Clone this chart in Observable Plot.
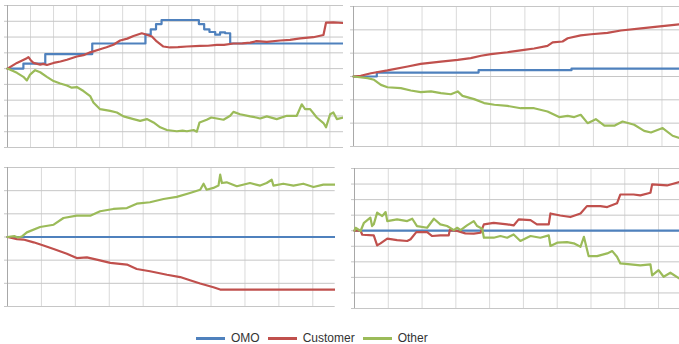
<!DOCTYPE html>
<html>
<head>
<meta charset="utf-8">
<script src="https://cdn.jsdelivr.net/npm/d3@7"></script>
<script src="https://cdn.jsdelivr.net/npm/@observablehq/plot@0.6"></script>
<style>
  html, body { margin: 0; padding: 0; background: #fff; }
  #chart { position: relative; width: 679px; height: 344px; overflow: hidden; font-family: "Liberation Sans", Arial, sans-serif; }
  #chart .panel { position: absolute; }
  #legend { position: absolute; left: 196px; top: 330px; height: 16px; display: flex; align-items: center; font-size: 12px; color: #333; }
  #legend .sw { width: 29px; height: 3px; }
  #legend .lb { margin-left: 6px; margin-right: 8px; }
</style>
</head>
<body>
<div id="chart"><div id="legend"></div></div>
<script>
// Series names and colours
const seriesNames = ["OMO", "Customer", "Other"];
const seriesColors = ["#4f81bd", "#c0504d", "#9bbb59"];

// Panel A (top left): cumulative flows, [period, value]
const aOmo = [[0,0],[0.69,0.31],[1.64,0.92],[3.68,1.59],[5.99,2.15],[6.22,2.49],[6.45,2.82],[6.69,3.08],[8.31,2.82],[8.54,2.49],[8.77,2.32],[9.02,2.15],[9.23,2.30],[9.45,2.24],[9.67,1.59],[14.59,1.59]];
const aCustomer = [[0,0],[0.41,0.36],[0.84,0.66],[0.91,0.73],[1.0,0.55],[1.13,0.36],[1.42,0.25],[1.55,0.3],[1.71,0.23],[2.0,0.36],[2.3,0.45],[2.58,0.56],[3.01,0.77],[3.3,0.85],[3.59,1.03],[4.02,1.23],[4.3,1.35],[4.6,1.51],[4.89,1.78],[5.2,1.9],[5.47,2.07],[5.83,2.24],[6.05,2.15],[6.27,2.03],[6.48,1.72],[6.77,1.40],[7.06,1.34],[7.4,1.36],[7.79,1.40],[8.36,1.44],[8.7,1.45],[9.09,1.51],[9.4,1.5],[9.81,1.59],[10.2,1.6],[10.54,1.65],[10.82,1.74],[11.26,1.69],[11.84,1.78],[12.27,1.82],[12.71,1.92],[13.28,1.99],[13.72,2.13],[13.83,2.91],[14.15,2.93],[14.59,2.89]];
const aOther = [[0,0],[0.41,-0.27],[0.69,-0.52],[0.84,-0.75],[0.98,-0.38],[1.20,-0.10],[1.42,-0.23],[1.71,-0.52],[2.0,-0.79],[2.29,-0.94],[2.58,-1.07],[2.79,-1.21],[3.01,-1.17],[3.3,-1.42],[3.59,-1.74],[3.73,-2.15],[4.02,-2.57],[4.46,-2.68],[4.75,-2.78],[5.04,-3.03],[5.47,-3.20],[5.76,-3.31],[6.05,-3.20],[6.34,-3.41],[6.63,-3.72],[6.92,-3.89],[7.35,-3.97],[7.6,-3.93],[7.79,-3.97],[8.08,-3.89],[8.22,-4.0],[8.34,-3.41],[8.65,-3.24],[8.85,-3.1],[9.09,-3.16],[9.38,-3.24],[9.67,-2.99],[9.81,-2.74],[10.1,-2.89],[10.54,-3.03],[10.8,-3.1],[10.97,-3.16],[11.26,-3.03],[11.69,-3.20],[12.13,-2.99],[12.56,-2.99],[12.78,-2.26],[12.92,-2.57],[13.14,-2.57],[13.43,-3.10],[13.72,-3.45],[13.83,-3.72],[14.01,-2.89],[14.15,-2.78],[14.3,-3.20],[14.59,-3.10]];

// Panel B (top right)
const bOmo = [[0,0],[0.68,0.17],[3.65,0.27],[6.36,0.34],[9.52,0.34]];
const bCustomer = [[0,0],[0.21,0.03],[0.51,0.14],[0.99,0.26],[1.58,0.43],[1.96,0.54],[2.55,0.64],[3.04,0.71],[3.42,0.79],[3.72,0.89],[4.01,0.96],[4.49,1.04],[4.98,1.14],[5.27,1.20],[5.66,1.31],[5.81,1.46],[6.10,1.50],[6.25,1.64],[6.63,1.76],[6.93,1.81],[7.41,1.87],[7.80,1.97],[8.39,2.06],[8.87,2.14],[9.52,2.24]];
const bOther = [[0,0],[0.41,-0.07],[0.60,-0.14],[0.80,-0.36],[0.99,-0.46],[1.38,-0.50],[1.67,-0.60],[1.96,-0.67],[2.26,-0.64],[2.55,-0.71],[2.84,-0.76],[3.04,-0.64],[3.18,-0.83],[3.52,-0.97],[3.81,-1.14],[4.11,-1.21],[4.49,-1.26],[4.88,-1.36],[5.27,-1.36],[5.66,-1.50],[6.00,-1.74],[6.25,-1.69],[6.44,-1.74],[6.63,-1.64],[6.83,-2.00],[7.07,-1.83],[7.32,-2.11],[7.61,-2.11],[7.85,-1.93],[8.19,-2.07],[8.48,-2.33],[8.68,-2.40],[9.02,-2.21],[9.31,-2.54],[9.52,-2.64]];

// Panel C (bottom left)
const cOmo = [[0,0],[9.66,0]];
const cCustomer = [[0,0],[0.28,-0.09],[0.47,-0.11],[0.77,-0.23],[1.06,-0.37],[1.36,-0.52],[1.75,-0.72],[2.04,-0.91],[2.34,-0.88],[2.63,-0.98],[3.03,-1.12],[3.52,-1.19],[3.81,-1.38],[4.20,-1.48],[4.70,-1.63],[5.09,-1.73],[5.38,-1.87],[5.68,-2.01],[6.07,-2.17],[6.27,-2.27],[9.66,-2.27]];
const cOther = [[0,0],[0.2,0.04],[0.3,-0.02],[0.42,0.02],[0.57,0.20],[0.96,0.43],[1.36,0.53],[1.65,0.82],[2.04,0.92],[2.44,0.92],[2.73,1.11],[3.12,1.21],[3.52,1.25],[3.81,1.44],[4.20,1.50],[4.60,1.64],[4.99,1.73],[5.38,1.90],[5.68,2.04],[5.78,2.30],[5.87,2.04],[6.07,2.12],[6.22,2.22],[6.27,2.69],[6.32,2.33],[6.46,2.36],[6.76,2.19],[7.15,2.33],[7.45,2.22],[7.64,2.33],[7.79,2.47],[7.84,2.22],[8.13,2.30],[8.43,2.22],[8.72,2.30],[9.02,2.16],[9.31,2.26],[9.66,2.26]];

// Panel D (bottom right)
const dOmo = [[0,0],[9.62,0]];
const dCustomer = [[0,0],[0.18,0],[0.23,-0.26],[0.57,-0.30],[0.67,-0.94],[0.77,-0.81],[0.97,-0.51],[1.26,-0.60],[1.56,-0.66],[1.66,-0.55],[1.83,-0.09],[2.15,-0.09],[2.30,-0.34],[2.54,-0.30],[2.79,-0.30],[2.82,0.04],[3.04,-0.02],[3.28,-0.17],[3.53,-0.19],[3.73,-0.13],[3.83,0.41],[4.12,0.51],[4.52,0.41],[4.71,0.34],[4.86,0.73],[5.21,0.68],[5.40,0.41],[5.75,0.41],[5.80,1.11],[6.09,0.98],[6.39,0.88],[6.69,1.11],[6.88,1.58],[7.28,1.58],[7.48,1.52],[7.77,1.76],[7.87,2.33],[8.26,2.33],[8.46,2.27],[8.76,2.44],[8.81,2.98],[9.25,2.91],[9.62,3.13]];
const dOther = [[0,0],[0.03,0.19],[0.18,-0.02],[0.28,0.51],[0.47,0.84],[0.52,0.30],[0.57,0.41],[0.67,1.16],[0.82,0.94],[0.92,1.20],[0.97,0.62],[1.26,0.73],[1.56,0.62],[1.71,0.77],[1.85,0.30],[2.15,0.19],[2.35,0.77],[2.54,0.41],[2.74,0.30],[2.94,0.04],[3.04,0.19],[3.14,0.04],[3.33,0.34],[3.53,0.62],[3.63,0.30],[3.78,0.13],[3.83,-0.45],[4.12,-0.45],[4.32,-0.34],[4.52,-0.45],[4.71,-0.24],[4.91,-0.66],[5.21,-0.34],[5.50,-0.45],[5.75,-0.30],[5.80,-0.98],[6.00,-0.77],[6.29,-0.73],[6.49,-0.81],[6.69,-1.03],[6.79,-0.39],[6.93,-1.63],[7.18,-1.63],[7.48,-1.46],[7.63,-1.31],[7.77,-1.67],[7.87,-2.10],[8.17,-2.16],[8.46,-2.23],[8.76,-2.16],[8.81,-2.87],[9.00,-2.53],[9.15,-2.96],[9.35,-2.70],[9.62,-3.08]];

const panels = [
  {left: 7.3, top: 5, right: 343.3, bottom: 147, xMax: 14.59, y: [-5, 4], data: [aOmo, aCustomer, aOther], omoStep: true},
  {left: 352.7, top: 6, right: 679, bottom: 146, xMax: 9.52, y: [-3, 3], data: [bOmo, bCustomer, bOther], omoStep: true},
  {left: 7.3, top: 166.7, right: 335, bottom: 305.7, xMax: 9.66, y: [-3, 3], data: [cOmo, cCustomer, cOther], omoStep: false},
  {left: 354, top: 167.7, right: 679, bottom: 307.7, xMax: 9.62, y: [-5, 4], data: [dOmo, dCustomer, dOther], omoStep: false}
];

const chart = document.getElementById("chart");
const mL = 4, mT = 2, mR = 0, mB = 2;

for (const p of panels) {
  const yTicks = d3.range(p.y[0], p.y[1] + 1);
  const xTicks = d3.range(1, Math.floor(p.xMax) + 1);
  const marks = [
    Plot.ruleX(xTicks, {stroke: "#dadada", strokeWidth: 1}),
    Plot.ruleY(yTicks, {stroke: "#c6c6c6", strokeWidth: 1}),
    Plot.axisY(yTicks, {tickSize: 3, tickFormat: () => "", label: null, stroke: "#c6c6c6"}),
    Plot.ruleX([0], {stroke: "#a8a8a8", strokeWidth: 1})
  ];
  p.data.forEach((series, i) => {
    marks.push(Plot.line(series, {
      x: d => d[0], y: d => d[1],
      stroke: seriesColors[i], strokeWidth: 2.2,
      curve: (i === 0 && p.omoStep) ? "step-after" : "linear"
    }));
  });
  const svg = Plot.plot({
    width: p.right - p.left + mL + mR,
    height: p.bottom - p.top + mT + mB,
    marginLeft: mL, marginTop: mT, marginRight: mR, marginBottom: mB,
    x: {domain: [0, p.xMax], axis: null},
    y: {domain: p.y, axis: null},
    marks
  });
  svg.classList.add("panel");
  svg.style.left = (p.left - mL) + "px";
  svg.style.top = (p.top - mT) + "px";
  chart.appendChild(svg);
}

// Legend
const legend = document.getElementById("legend");
seriesNames.forEach((name, i) => {
  const sw = document.createElement("span");
  sw.className = "sw";
  sw.style.background = seriesColors[i];
  const lb = document.createElement("span");
  lb.className = "lb";
  lb.textContent = name;
  legend.appendChild(sw);
  legend.appendChild(lb);
});
</script>
</body>
</html>
